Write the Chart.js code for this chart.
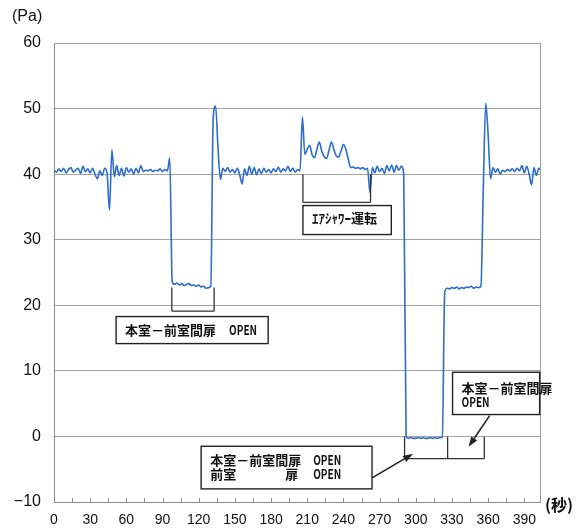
<!DOCTYPE html>
<html lang="ja">
<head>
<meta charset="utf-8">
<script src="https://cdn.jsdelivr.net/npm/chart.js@4/dist/chart.umd.min.js"></script>
<style>
  html, body { margin: 0; padding: 0; background: #fff; }
</style>
</head>
<body>
<canvas id="pressureChart" width="577" height="530"></canvas>
<script>
// --- data: room pressure (Pa), one reading every 2 s ---
const sampleStep = 2;
const pressure = [
  // 0 - 18 s
  40.6, 40.3, 40.8, 40.4, 40.9, 40.2, 40.7, 41.0, 40.3, 40.6,
  // 20 - 38 s
  40.9, 40.1, 41.2, 40.4, 40.8, 40.2, 40.9, 40.0, 39.3, 40.5,
  // 40 - 58 s
  39.8, 40.9, 40.2, 34.5, 43.7, 39.6, 41.3, 39.8, 40.9, 39.7,
  // 60 - 78 s
  41.0, 40.3, 40.8, 40.0, 40.9, 40.2, 41.3, 40.4, 40.6, 40.5,
  // 80 - 98 s
  40.7, 40.4, 40.6, 40.5, 40.8, 40.4, 40.7, 40.5, 42.5, 23.6,
  // 100 - 118 s
  23.2, 23.4, 23.1, 23.3, 23.0, 23.2, 23.3, 23.0, 23.1, 22.9,
  // 120 - 138 s
  23.1, 22.8, 22.9, 22.6, 22.7, 22.9, 48.5, 50.4, 44.0, 39.2,
  // 140 - 158 s
  40.9, 40.4, 41.0, 40.3, 40.7, 40.2, 40.9, 39.9, 38.5, 40.8,
  // 160 - 178 s
  39.8, 41.2, 40.0, 41.0, 39.9, 40.8, 40.1, 40.9, 40.3, 40.7,
  // 180 - 198 s
  40.2, 40.8, 40.4, 41.1, 40.3, 40.8, 40.5, 41.2, 40.4, 40.9,
  // 200 - 218 s
  40.3, 40.7, 40.5, 48.7, 43.0, 43.8, 44.4, 43.0, 42.5, 43.8,
  // 220 - 238 s
  44.9, 43.5, 42.7, 42.4, 43.6, 44.9, 43.8, 42.8, 42.6, 43.5,
  // 240 - 258 s
  44.5, 43.8, 42.3, 41.0, 41.1, 40.9, 41.0, 40.8, 41.0, 40.7,
  // 260 - 278 s
  40.9, 37.2, 41.0, 40.2, 41.2, 40.4, 40.9, 40.1, 41.3, 40.5,
  // 280 - 298 s
  41.4, 40.3, 41.3, 40.6, 41.2, 40.0, 0.0, -0.3, -0.2, -0.3,
  // 300 - 318 s
  -0.3, -0.2, -0.3, -0.2, -0.3, -0.3, -0.2, -0.3, -0.2, -0.3,
  // 320 - 338 s
  -0.2, -0.1, 22.0, 22.6, 22.5, 22.7, 22.6, 22.8, 22.5, 22.7,
  // 340 - 358 s
  22.6, 22.8, 22.7, 22.9, 22.6, 22.8, 22.7, 22.9, 38.0, 50.8,
  // 360 - 378 s
  46.0, 39.3, 41.0, 40.3, 40.8, 40.0, 40.6, 40.4, 40.7, 40.5,
  // 380 - 398 s
  40.8, 40.4, 40.9, 40.5, 41.3, 40.2, 41.2, 40.0, 38.4, 41.0,
  // 400 - 404 s
  39.8, 40.9, 40.5
];

const xTickLabels = [0, 30, 60, 90, 120, 150, 180, 210, 240, 270, 300, 330, 360, 390];
const xMinorTicks = [15, 30, 45, 60, 75, 90, 105, 120, 135, 150, 165, 180, 195,
                     210, 225, 240, 255, 270, 285, 300, 315, 330, 345, 360, 375, 390];
const yTickLabels = [-10, 0, 10, 20, 30, 40, 50, 60];

// --- annotations (in chart units: seconds / Pa) ---
const brackets = [
  { t: [97.7, 132.8], top: 22.7, bottom: 19.1 },
  { t: [206.4, 262.5], top: 40, bottom: 35.7 },
  { t: [290.7, 326.4, 356.8], top: 0, bottom: -3.4 }
];
const noteBoxes = [
  { t0: 51.5, t1: 177.6, top: 18.28, bottom: 14.16,
    lines: [{ dy: 13.5, parts: [['本室－前室間扉', 9], ['OPEN', 113]] }] },
  { t0: 206.4, t1: 279.7, top: 35.21, bottom: 30.79,
    lines: [{ dy: 13, parts: [['ｴｱｼｬﾜｰ運転', 9]] }] },
  { t0: 330.5, t1: 402.7, top: 9.79, bottom: 3.34,
    lines: [{ dy: 15.5, parts: [['本室－前室間扉', 9]] },
            { dy: 30, parts: [['OPEN', 9]] }] },
  { t0: 122, t1: 263.7, top: -1.5, bottom: -8.0,
    lines: [{ dy: 14, parts: [['本室－前室間扉', 9], ['OPEN', 112]] },
            { dy: 28, parts: [['前室', 9], ['扉', 84], ['OPEN', 112]] }] }
];
const arrows = [
  { from: [263.7, -6.32], to: [297.7, -2.66] },
  { from: [361.2, 3.18], to: [343.8, -1.59] }
];

const cjkFont = '"Noto Sans CJK JP", sans-serif';

function drawPart(ctx, text, x, y) {
  if (/^[A-Z]+$/.test(text)) {
    // narrow latin, like the original print
    ctx.save();
    ctx.translate(x, y);
    ctx.scale(0.74, 1);
    ctx.font = 'bold 13.5px ' + cjkFont;
    ctx.fillText(text, 0, 0);
    ctx.restore();
  } else {
    ctx.font = 'bold 13px ' + cjkFont;
    ctx.fillText(text, x, y);
  }
}

const notesPlugin = {
  id: 'notes',
  afterDraw(chart) {
    const { ctx, chartArea: a, scales: { x, y } } = chart;
    const px = t => x.getPixelForValue(t);
    const py = v => y.getPixelForValue(v);
    ctx.save();

    // right frame line
    ctx.strokeStyle = '#9a9a9a';
    ctx.lineWidth = 1;
    ctx.beginPath();
    ctx.moveTo(Math.round(a.right) + 0.5, a.top);
    ctx.lineTo(Math.round(a.right) + 0.5, a.bottom);
    ctx.stroke();

    // small tick marks pointing into the plot
    ctx.strokeStyle = '#8c8c8c';
    ctx.beginPath();
    xMinorTicks.forEach(t => {
      const xx = Math.round(px(t)) + 0.5;
      ctx.moveTo(xx, a.bottom);
      ctx.lineTo(xx, a.bottom - 4);
    });
    ctx.stroke();

    // brackets
    ctx.strokeStyle = '#333';
    ctx.lineWidth = 1.3;
    brackets.forEach(b => {
      ctx.beginPath();
      b.t.forEach(t => {
        ctx.moveTo(px(t), py(b.top));
        ctx.lineTo(px(t), py(b.bottom));
      });
      ctx.moveTo(px(b.t[0]), py(b.bottom));
      ctx.lineTo(px(b.t[b.t.length - 1]), py(b.bottom));
      ctx.stroke();
    });

    // boxes with text
    noteBoxes.forEach(b => {
      const x0 = px(b.t0), x1 = px(b.t1), y0 = py(b.top), y1 = py(b.bottom);
      ctx.fillStyle = '#fff';
      ctx.fillRect(x0, y0, x1 - x0, y1 - y0);
      ctx.strokeStyle = '#222';
      ctx.lineWidth = 1.4;
      ctx.strokeRect(x0, y0, x1 - x0, y1 - y0);
      ctx.fillStyle = '#111';
      ctx.textBaseline = 'middle';
      ctx.textAlign = 'left';
      b.lines.forEach(line => {
        line.parts.forEach(([text, dx]) => drawPart(ctx, text, x0 + dx, y0 + line.dy));
      });
    });

    // arrows
    ctx.strokeStyle = '#222';
    ctx.fillStyle = '#222';
    ctx.lineWidth = 1.6;
    arrows.forEach(ar => {
      const x0 = px(ar.from[0]), y0 = py(ar.from[1]);
      const x1 = px(ar.to[0]), y1 = py(ar.to[1]);
      const ang = Math.atan2(y1 - y0, x1 - x0);
      const len = 10, half = 3.5;
      const bx = x1 - len * Math.cos(ang), by = y1 - len * Math.sin(ang);
      ctx.beginPath();
      ctx.moveTo(x0, y0);
      ctx.lineTo(bx, by);
      ctx.stroke();
      ctx.beginPath();
      ctx.moveTo(x1, y1);
      ctx.lineTo(bx + half * Math.sin(ang), by - half * Math.cos(ang));
      ctx.lineTo(bx - half * Math.sin(ang), by + half * Math.cos(ang));
      ctx.closePath();
      ctx.fill();
    });

    // unit labels
    ctx.fillStyle = '#111';
    ctx.textBaseline = 'middle';
    ctx.textAlign = 'left';
    ctx.font = '16px "Liberation Sans", Arial, sans-serif';
    ctx.fillText('(Pa)', 12, 17);
    ctx.font = 'bold 16px ' + cjkFont;
    ctx.fillText('(秒)', a.right + 5, a.bottom + 3);

    ctx.restore();
  }
};

// --- chart ---
const ctx = document.getElementById('pressureChart').getContext('2d');
const pressureChart = new Chart(ctx, {
  type: 'line',
  data: {
    datasets: [{
      label: '差圧',
      data: pressure.map((v, i) => ({ x: i * sampleStep, y: v })),
      borderColor: '#2d6dcc',
      borderWidth: 1.6,
      pointRadius: 0,
      cubicInterpolationMode: 'monotone',
      fill: false
    }]
  },
  options: {
    responsive: false,
    animation: false,
    layout: { padding: { top: 43, right: 37, bottom: 0, left: 0 } },
    plugins: {
      legend: { display: false },
      tooltip: { enabled: false }
    },
    scales: {
      x: {
        type: 'linear',
        min: 0,
        max: 403,
        afterBuildTicks: s => { s.ticks = xTickLabels.map(v => ({ value: v })); },
        afterFit: s => { s.height = 28; },
        grid: { display: false, drawTicks: false },
        border: { display: true, color: '#8c8c8c' },
        ticks: {
          color: '#111',
          font: { family: '"Liberation Sans", Arial, sans-serif', size: 14 },
          padding: 10,
          maxRotation: 0,
          autoSkip: false
        }
      },
      y: {
        min: -10,
        max: 60,
        afterBuildTicks: s => { s.ticks = yTickLabels.map(v => ({ value: v })); },
        afterFit: s => { s.width = 54; },
        grid: { color: '#a3a3a3', drawTicks: false },
        border: { display: true, color: '#8c8c8c' },
        ticks: {
          color: '#111',
          font: { family: '"Liberation Sans", Arial, sans-serif', size: 16 },
          padding: 13,
          callback: v => (v < 0 ? '\u2212' + Math.abs(v) : v)
        }
      }
    }
  },
  plugins: [notesPlugin]
});
</script>
</body>
</html>
